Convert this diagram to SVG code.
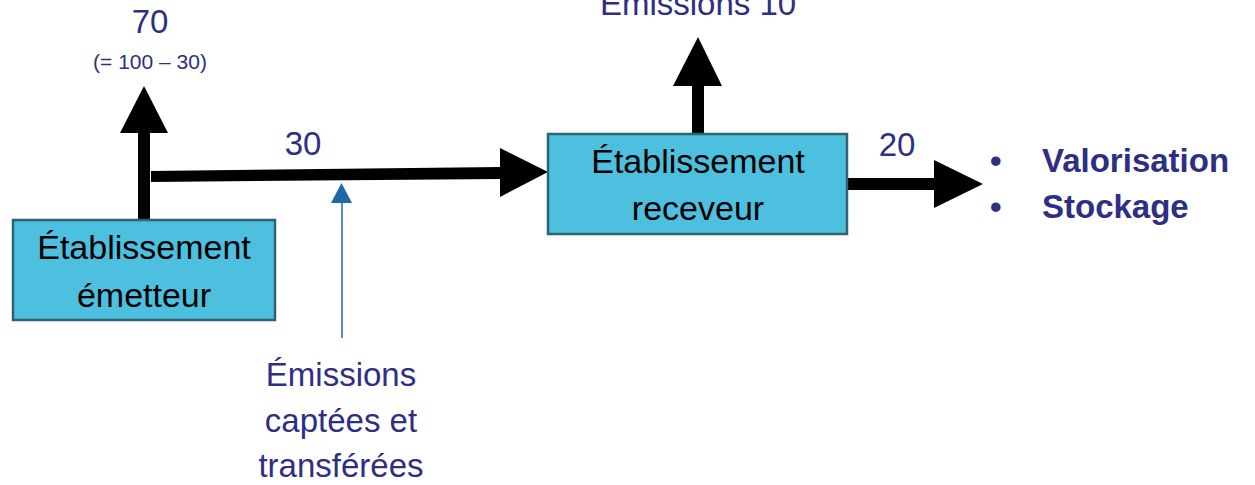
<svg xmlns="http://www.w3.org/2000/svg" width="1255" height="485" viewBox="0 0 1255 485">
<style>
.box{fill:#4DBFDF;stroke:#2D6474;stroke-width:2.5}
.bt{font-family:"Liberation Sans",Arial,sans-serif;font-size:34px;fill:#000;text-anchor:middle}
.lb{font-family:"Liberation Sans",Arial,sans-serif;fill:#2E2E84;text-anchor:middle}
.big{font-size:33px}
.bold{font-weight:bold;font-size:33px;text-anchor:start}
</style>
<rect width="1255" height="485" fill="#fff"/>
<g id="connectors">
  <line x1="144" y1="221" x2="144" y2="130" stroke="#000" stroke-width="12"/>
  <polygon points="120,133 168,133 144,86" fill="#000"/>
  <polygon points="151,171 501,167 501,179 151,182" fill="#000"/>
  <polygon points="500,148 548,172 500,197" fill="#000"/>
  <line x1="698" y1="135" x2="698" y2="84" stroke="#000" stroke-width="12"/>
  <polygon points="673,86 722,86 698,37" fill="#000"/>
  <line x1="847" y1="184" x2="936" y2="184" stroke="#000" stroke-width="12"/>
  <polygon points="934,160 983,184 934,208" fill="#000"/>
  <line x1="342" y1="338" x2="342" y2="200" stroke="#1F67A6" stroke-width="1.5"/>
  <polygon points="331,203 352,203 341.5,183" fill="#1F67A6"/>
</g>
<g id="emetteur">
  <rect class="box" x="13" y="220" width="262" height="100"/>
  <text class="bt" x="144" y="259">Établissement</text>
  <text class="bt" x="144" y="307">émetteur</text>
</g>
<g id="receveur">
  <rect class="box" x="548" y="134" width="299" height="100"/>
  <text class="bt" x="698" y="173">Établissement</text>
  <text class="bt" x="698" y="220">receveur</text>
</g>
<g id="labels">
  <text class="lb big" x="150" y="33">70</text>
  <text class="lb" x="150" y="69" font-size="21">(= 100 – 30)</text>
  <text class="lb big" x="303" y="155">30</text>
  <text class="lb big" x="897" y="156">20</text>
  <text class="lb big" x="698" y="15">Émissions 10</text>
  <text class="lb big" x="341" y="386">Émissions</text>
  <text class="lb big" x="341" y="432">captées et</text>
  <text class="lb big" x="341" y="477">transférées</text>
  <text class="lb bold" x="990" y="172">•</text>
  <text class="lb bold" x="1042" y="172">Valorisation</text>
  <text class="lb bold" x="990" y="218">•</text>
  <text class="lb bold" x="1042" y="218">Stockage</text>
</g>
</svg>
